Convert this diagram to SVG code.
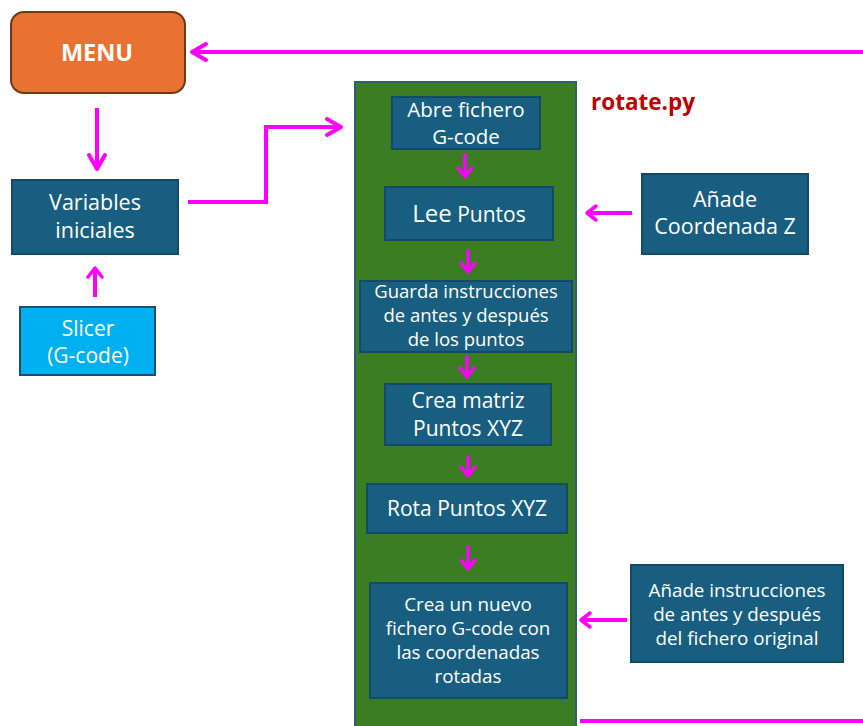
<svg xmlns="http://www.w3.org/2000/svg" width="863" height="726" viewBox="0 0 863 726">
<defs>
<marker id="big" markerUnits="userSpaceOnUse" markerWidth="20" markerHeight="20" viewBox="-16 -10 20 20" refX="0" refY="0" orient="auto" overflow="visible">
<path d="M-14,-8 L0,0 L-14,8" fill="none" stroke="#FF00FF" stroke-width="4" stroke-linecap="round" stroke-linejoin="round"/>
</marker>
<marker id="small" markerUnits="userSpaceOnUse" markerWidth="20" markerHeight="20" viewBox="-12 -10 20 20" refX="0" refY="0" orient="auto" overflow="visible">
<path d="M-9,-7 L0,0 L-9,7" fill="none" stroke="#FF00FF" stroke-width="3.5" stroke-linecap="round" stroke-linejoin="round"/>
</marker>
</defs>
<style>
.box{fill:#185E80;stroke:#134A66;stroke-width:2}
.t{font-family:"Open Sans","Liberation Sans",sans-serif;fill:#FFFFFF;text-anchor:middle}
.c{fill:none;stroke:#FF00FF;stroke-width:4}
.cs{fill:none;stroke:#FF00FF;stroke-width:3.5}
</style>
<rect width="863" height="726" fill="#FFFFFF"/>
<g id="panel">
<rect x="355" y="82" width="221" height="650" fill="#3A7D22" stroke="#2F5F78" stroke-width="2"/>
<text x="591" y="110" font-family="'Open Sans','Liberation Sans',sans-serif" font-weight="bold" font-size="22.5" fill="#C00000">rotate.py</text>
</g>
<g id="menu">
<rect x="11" y="12" width="174" height="81" rx="13" fill="#E97132" stroke="#6B3A1B" stroke-width="2"/>
<text class="t" x="97" y="61" font-size="23.5" font-weight="bold">MENU</text>
</g>
<g id="variables">
<rect class="box" x="12" y="180" width="166" height="74"/>
<text class="t" x="95" y="210" font-size="21.5">Variables</text>
<text class="t" x="95" y="238" font-size="21.5">iniciales</text>
</g>
<g id="slicer">
<rect x="20" y="307" width="135" height="68" fill="#00B0F0" stroke="#1E4E6A" stroke-width="2"/>
<text class="t" x="88" y="336" font-size="21">Slicer</text>
<text class="t" x="88" y="363" font-size="21">(G-code)</text>
</g>
<g id="abre">
<rect class="box" x="392" y="97" width="148" height="52"/>
<text class="t" x="466" y="117" font-size="20.5">Abre fichero</text>
<text class="t" x="466" y="144" font-size="20.5">G-code</text>
</g>
<g id="lee">
<rect class="box" x="385" y="187" width="168" height="53"/>
<text class="t" x="469" y="222"><tspan font-size="24">Lee</tspan><tspan font-size="21"> Puntos</tspan></text>
</g>
<g id="guarda">
<rect class="box" x="360" y="281" width="212" height="71"/>
<text class="t" x="466" y="298" font-size="18.5">Guarda instrucciones</text>
<text class="t" x="466" y="322" font-size="18.5">de antes y después</text>
<text class="t" x="466" y="346" font-size="18.5">de los puntos</text>
</g>
<g id="crea-matriz">
<rect class="box" x="385" y="384" width="166" height="61"/>
<text class="t" x="468" y="408" font-size="21">Crea matriz</text>
<text class="t" x="468" y="436" font-size="21">Puntos XYZ</text>
</g>
<g id="rota">
<rect class="box" x="367" y="484" width="200" height="49"/>
<text class="t" x="467" y="516" font-size="21">Rota Puntos XYZ</text>
</g>
<g id="crea-nuevo">
<rect class="box" x="370" y="583" width="197" height="115"/>
<text class="t" x="468" y="611" font-size="18.8">Crea un nuevo</text>
<text class="t" x="468" y="635" font-size="18.8">fichero G-code con</text>
<text class="t" x="468" y="659" font-size="18.8">las coordenadas</text>
<text class="t" x="468" y="683" font-size="18.8">rotadas</text>
</g>
<g id="anade-z">
<rect class="box" x="642" y="174" width="166" height="80"/>
<text class="t" x="725" y="207" font-size="21.5">Añade</text>
<text class="t" x="725" y="234" font-size="21.5">Coordenada Z</text>
</g>
<g id="anade-instr">
<rect class="box" x="631" y="565" width="212" height="97"/>
<text class="t" x="737" y="597" font-size="18.8">Añade instrucciones</text>
<text class="t" x="737" y="621" font-size="18.8">de antes y después</text>
<text class="t" x="737" y="645" font-size="18.8">del  fichero original</text>
</g>
<g id="connectors">
<path class="c" d="M863,52 L192,52" marker-end="url(#big)"/>
<path class="c" d="M97,108 L97,169" marker-end="url(#big)"/>
<path class="c" d="M188,202 L266,202 L266,127 L341,127" marker-end="url(#big)"/>
<path class="c" d="M95,297 L95,268" marker-end="url(#small)"/>
<path class="cs" d="M465,154 L465,177" marker-end="url(#small)"/>
<path class="cs" d="M468,249 L468,272" marker-end="url(#small)"/>
<path class="cs" d="M467,355 L467,377" marker-end="url(#small)"/>
<path class="cs" d="M468,455 L468,476" marker-end="url(#small)"/>
<path class="cs" d="M468,545 L468,569" marker-end="url(#small)"/>
<path class="c" d="M632,213 L587,213" marker-end="url(#small)"/>
<path class="c" d="M627,620 L581,620" marker-end="url(#small)"/>
<path class="c" d="M580,721 L863,721"/>
</g>
</svg>
